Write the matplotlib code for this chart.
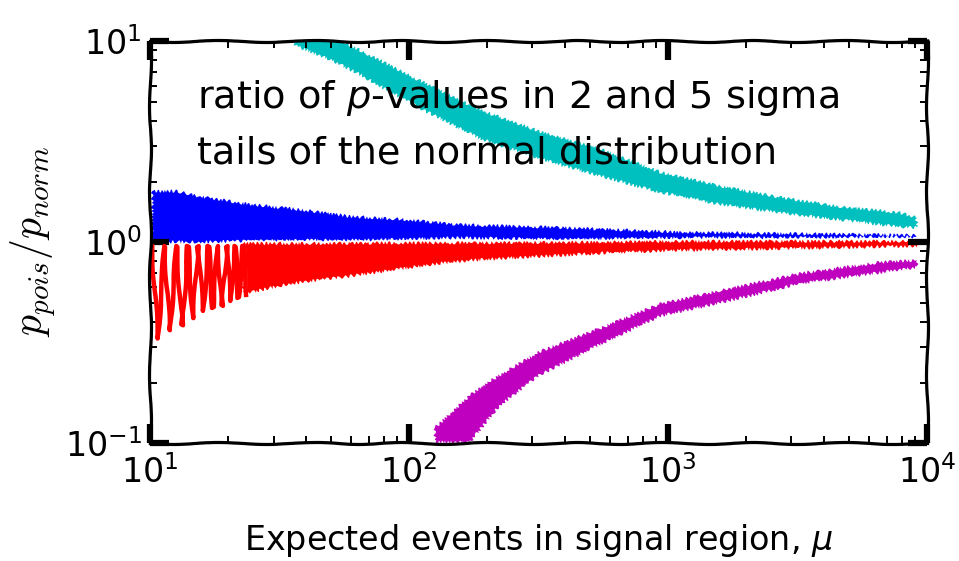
import matplotlib
matplotlib.use('Agg')
import matplotlib.pyplot as plt
import matplotlib.patheffects as pe
from matplotlib.ticker import LogLocator, NullFormatter

# значения: mu и верх/низ каждой полосы
cyan_mu = [36.3, 49.5, 64.7, 110, 188, 320, 546, 931, 1588, 2707, 4616, 7870, 9140]
cyan_hi = [10.5, 10.5, 9.0, 6.35, 4.54, 3.55, 2.91, 2.23, 1.90, 1.67, 1.50, 1.40, 1.32]
cyan_lo = [9.5, 8.1, 6.8, 4.64, 3.27, 2.60, 2.13, 1.77, 1.54, 1.40, 1.29, 1.19, 1.18]

blue_mu = [10.2, 12.7, 15.3, 24.3, 37.9, 59.2, 92.3, 157, 383, 1112, 3236, 7870, 9140]
blue_hi = [1.79, 1.79, 1.69, 1.54, 1.45, 1.34, 1.30, 1.22, 1.18, 1.12, 1.10, 1.085, 1.08]
blue_lo = [1.0, 1.0, 1.0, 1.01, 1.02, 1.02, 1.03, 1.05, 1.03, 1.05, 1.05, 1.06, 1.06]

# "зубцы" красной кривой при малых mu
red_teeth_mu = [10.2, 10.7, 11.4, 11.9, 12.7, 13.3, 14.0, 14.7, 15.3, 16.0,
                16.8, 17.5, 18.3, 19.0, 19.8, 20.4, 21.3, 21.9, 22.9, 23.7]
red_teeth_val = [0.95, 0.331, 0.955, 0.364, 0.955, 0.385, 0.955, 0.418, 0.955, 0.454,
                 0.955, 0.47, 0.955, 0.481, 0.955, 0.509, 0.955, 0.527, 0.955, 0.546]

red_mu = [22.9, 24.3, 34.7, 54.2, 84.6, 132, 172, 546, 1112, 3236, 9140]
red_hi = [0.985, 0.985, 0.985, 0.985, 0.99, 0.99, 0.99, 1.0, 1.01, 1.01, 1.01]
red_lo = [0.56, 0.56, 0.621, 0.666, 0.722, 0.783, 0.811, 0.88, 0.91, 0.93, 0.955]

magenta_mu = [126, 172, 224, 320, 546, 931, 1588, 3236, 6590, 9140]
magenta_hi = [0.119, 0.173, 0.218, 0.285, 0.372, 0.492, 0.573, 0.697, 0.793, 0.811]
magenta_lo = [0.101, 0.101, 0.154, 0.218, 0.309, 0.428, 0.498, 0.621, 0.705, 0.748]

plt.xkcd()
plt.rcParams['font.family'] = 'DejaVu Sans'
plt.rcParams['path.effects'] = []

fig = plt.figure(figsize=(9.59, 5.61), dpi=100)
ax = fig.add_axes([0.1564, 0.2103, 0.810, 0.7166])

white = [pe.withStroke(linewidth=2.5, foreground='w')]
bands = []
bands.append(ax.fill_between(cyan_mu, cyan_lo, cyan_hi, color='c', lw=0))
bands.append(ax.fill_between(blue_mu, blue_lo, blue_hi, color='b', lw=0))
bands.append(ax.fill_between(red_mu, red_lo, red_hi, color='r', lw=0))
teeth, = ax.plot(red_teeth_mu, red_teeth_val, color='r', lw=3.2)
bands.append(ax.fill_between(magenta_mu, magenta_lo, magenta_hi, color='m', lw=0))
for b in bands:
    b.set_sketch_params(scale=1.6, length=5, randomness=3)
    b.set_path_effects(white)
teeth.set_path_effects(white)

ax.set_xscale('log')
ax.set_yscale('log')
ax.set_xlim(10, 1e4)
ax.set_ylim(0.1, 10)

ax.xaxis.set_minor_locator(LogLocator(base=10, subs=range(2, 10)))
ax.yaxis.set_minor_locator(LogLocator(base=10, subs=range(2, 10)))
ax.xaxis.set_minor_formatter(NullFormatter())
ax.yaxis.set_minor_formatter(NullFormatter())

for s in ax.spines.values():
    s.set_linewidth(2.3)

ax.tick_params(which='major', direction='in', length=14, width=4.5,
               top=True, right=True, labelsize=24)
ax.tick_params(axis='x', which='major', pad=9)
ax.tick_params(axis='y', which='major', pad=6)
ax.tick_params(which='minor', direction='in', length=5, width=1.4,
               top=True, right=True)

ax.set_xlabel(r'Expected events in signal region, $\mu$', fontsize=24, labelpad=23)
ax.set_ylabel(r'$p_{pois}/p_{norm}$', fontsize=30, math_fontfamily='cm')
ax.yaxis.set_label_coords(-0.118, 0.5)

ax.text(0.0605, 0.833, r'ratio of $p$-values in 2 and 5 sigma',
        transform=ax.transAxes, fontsize=27.5, va='baseline', ha='left')
ax.text(0.0605, 0.6965, 'tails of the normal distribution',
        transform=ax.transAxes, fontsize=27.5, va='baseline', ha='left')

fig.savefig('out.png', dpi=100)
